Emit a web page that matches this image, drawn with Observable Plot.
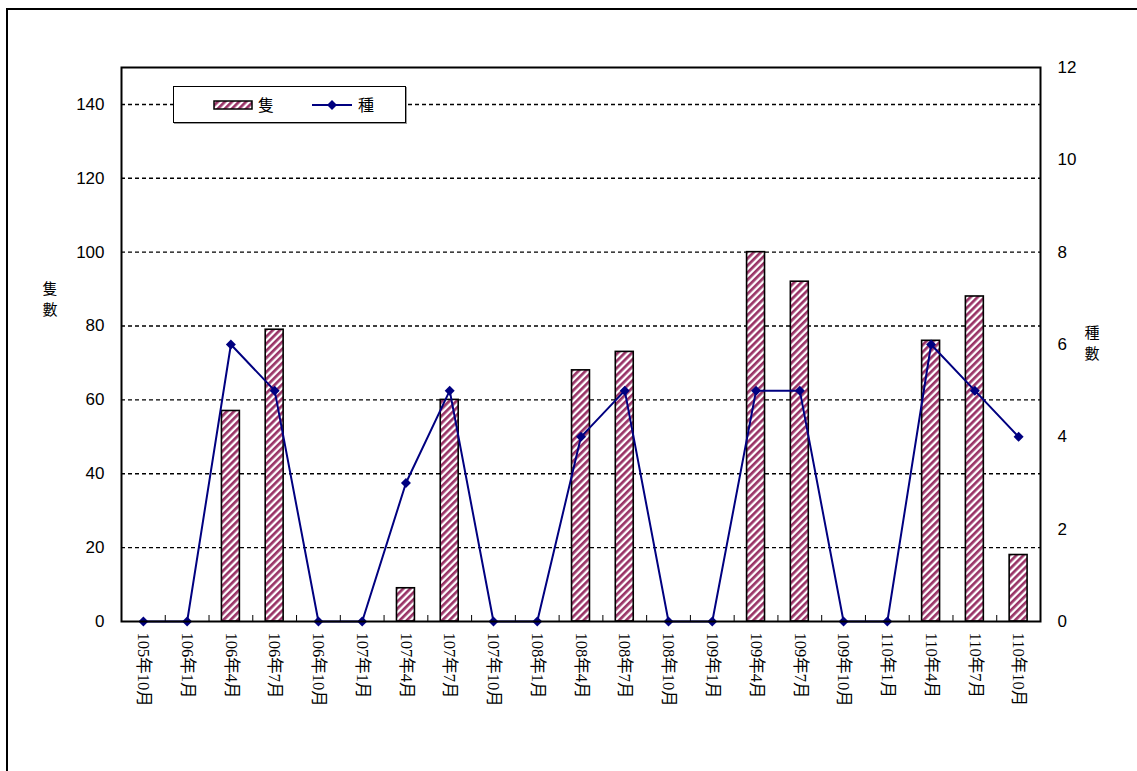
<!DOCTYPE html>
<html>
<head>
<meta charset="utf-8">
<script src="https://cdn.jsdelivr.net/npm/d3@7"></script>
<script src="https://cdn.jsdelivr.net/npm/@observablehq/plot@0.6"></script>
<style>
  html, body { margin: 0; padding: 0; background: #fff; }
  #wrap { position: relative; width: 1137px; height: 771px; overflow: hidden; }
  #border-top { position: absolute; left: 6px; top: 8px; width: 1131px; height: 0; border-top: 2px solid #000; }
  #border-left { position: absolute; left: 6px; top: 8px; width: 0; height: 763px; border-left: 2px solid #000; }
  .ytitle { position: absolute; font-family: "Noto Sans CJK TC", sans-serif; font-size: 15px; line-height: 15px; height: 15px; text-align: center; width: 20px; }
  #legend { position: absolute; left: 173px; top: 86px; width: 231px; height: 35px; border: 1px solid #000; background: #fff; box-shadow: 1px 1px 0 #999; }
  #legend svg { position: absolute; left: 0; top: 0; }
</style>
</head>
<body>
<svg width="0" height="0" style="position:absolute">
  <defs>
    <pattern id="stripes" patternUnits="userSpaceOnUse" width="5" height="5" patternTransform="rotate(45)">
      <rect x="0" y="0" width="5" height="5" fill="#ffffff"></rect>
      <rect x="0" y="0" width="2.7" height="5" fill="#993366"></rect>
    </pattern>
  </defs>
</svg>
<div id="wrap">
  <div id="chart"></div>
  <div id="border-top"></div>
  <div id="border-left"></div>
  <div class="ytitle" style="left:40px; top:280px;">隻</div>
  <div class="ytitle" style="left:40px; top:301px;">數</div>
  <div class="ytitle" style="left:1082px; top:324px;">種</div>
  <div class="ytitle" style="left:1082px; top:345px;">數</div>
  <div id="legend"></div>
</div>
<script>
const categories = ["105年10月","106年1月","106年4月","106年7月","106年10月","107年1月","107年4月","107年7月","107年10月","108年1月","108年4月","108年7月","108年10月","109年1月","109年4月","109年7月","109年10月","110年1月","110年4月","110年7月","110年10月"];
const counts  = [0,0,57,79,0,0,9,60,0,0,68,73,0,0,100,92,0,0,76,88,18];
const species = [0,0,6,5,0,0,3,5,0,0,4,5,0,0,5,5,0,0,6,5,4];
const leftTicks = [0,20,40,60,80,100,120,140];
const rightTicks = [0,2,4,6,8,10,12];
const seriesNames = ["隻","種"];

const leftMax = 150, rightMax = 12;
const ratio = leftMax / rightMax;

const W = 1137, H = 771, mL = 121, mR = 97, mT = 67, mB = 150;
const innerW = W - mL - mR, innerH = H - mT - mB;
const step = innerW / categories.length;

const data = categories.map((c, i) => ({cat: c, count: counts[i], species: species[i]}));

const chart = Plot.plot({
  width: W, height: H,
  marginLeft: mL, marginRight: mR, marginTop: mT, marginBottom: mB,
  style: {fontFamily: "'Liberation Sans', Arial, sans-serif", fontSize: "17px", background: "transparent", overflow: "visible", color: "#000"},
  x: {type: "band", domain: categories, paddingInner: 0.59, paddingOuter: 0.295, round: false, label: null},
  y: {domain: [0, leftMax], label: null},
  marks: [
    Plot.ruleY(leftTicks.filter(d => d > 0), {stroke: "#000", strokeWidth: 1.4, strokeDasharray: "4,3"}),
    Plot.barY(data.filter(d => d.count > 0), {x: "cat", y: "count", fill: "url(#stripes)", stroke: "#000", strokeWidth: 1.6}),
    Plot.ruleX(categories, {x: d => d, dx: step / 2, insetTop: innerH - 6, stroke: "#000", strokeWidth: 1}),
    Plot.line(data, {x: "cat", y: d => d.species * ratio, stroke: "#000080", strokeWidth: 2}),
    Plot.dot(data, {x: "cat", y: d => d.species * ratio, symbol: "diamond2", r: 4.5, fill: "#000080", stroke: "none"}),
    Plot.frame({stroke: "#000", strokeWidth: 2}),
    Plot.axisY({ticks: leftTicks, tickSize: 0, tickPadding: 17, label: null}),
    Plot.axisY({anchor: "right", ticks: rightTicks.map(d => d * ratio), tickFormat: d => String(Math.round(d / ratio)), tickSize: 0, tickPadding: 17, textAnchor: "start", label: null}),
    Plot.axisX({tickSize: 0, tickPadding: 11, tickRotate: 90, textAnchor: "start", fontFamily: "'Liberation Serif', 'Noto Sans CJK TC', serif", fontSize: 16.5, label: null})
  ]
});
document.getElementById("chart").appendChild(chart);

// legend
const lg = d3.select("#legend").append("svg").attr("width", 231).attr("height", 35);
lg.append("rect").attr("x", 40).attr("y", 14).attr("width", 38).attr("height", 8)
  .attr("fill", "url(#stripes)").attr("stroke", "#000").attr("stroke-width", 1.5);
lg.append("text").attr("x", 84).attr("y", 24).attr("font-family", "'Noto Sans CJK TC', sans-serif").attr("font-size", 16).text(seriesNames[0]);
lg.append("line").attr("x1", 138).attr("x2", 178).attr("y1", 18).attr("y2", 18).attr("stroke", "#000080").attr("stroke-width", 2);
lg.append("path").attr("d", "M158,13 L163,18 L158,23 L153,18 Z").attr("fill", "#000080");
lg.append("text").attr("x", 184).attr("y", 24).attr("font-family", "'Noto Sans CJK TC', sans-serif").attr("font-size", 16).text(seriesNames[1]);
</script>
</body>
</html>
